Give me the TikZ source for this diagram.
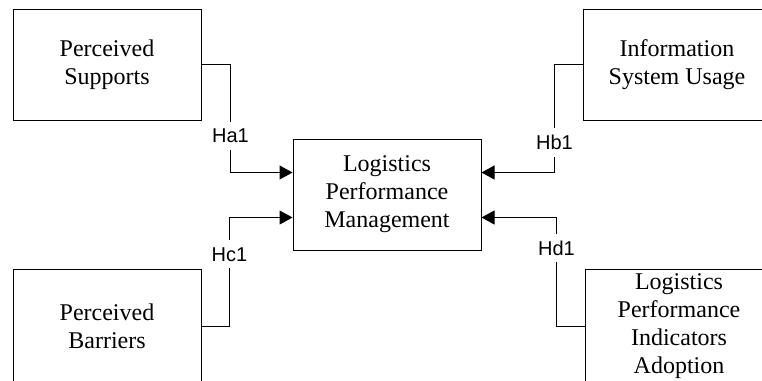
\documentclass[tikz,border=0pt]{standalone}
\usepackage{fontspec}
\setmainfont{Liberation Serif}
\newfontfamily\hfont{Liberation Sans}
\usetikzlibrary{arrows.meta}

\begin{document}
\begin{tikzpicture}[
  x=1pt,y=-1pt,
  >={Triangle[length=13pt,width=14pt]},
  factor/.style={draw,line width=1pt,minimum width=188pt,minimum height=111pt,
    inner sep=1pt,align=center,font=\fontsize{24}{28}\selectfont},
  link/.style={->,line width=1pt},
  hyp/.style={fill=white,inner xsep=3pt,inner ysep=7pt,font=\hfont\fontsize{20}{22}\selectfont}
]
  \useasboundingbox (0,0) rectangle (762,380);
  \clip (0,0) rectangle (762,380);

  \node[factor] (lpm) at (387,194.5) {Logistics\\Performance\\Management};
  \node[factor] (supp) at (107,64.5) {Perceived\\Supports};
  \node[factor] (isu) at (677,64.5) {Information\\System Usage};
  \node[factor,minimum height=114pt] (barr) at (107,326) {Perceived\\Barriers};
  \node[factor,minimum height=114pt] (lpia) at (679,326) {Logistics\\Performance\\Indicators\\Adoption};

  % hypotheses
  \draw[link] (supp.east) -- ++(29,0) |- node[pos=0.33,hyp] {Ha1} ([yshift=22pt]lpm.west);
  \draw[link] (isu.west) -- ++(-28,0) |- node[pos=0.36,hyp] {Hb1} ([yshift=22pt]lpm.east);
  \draw[link] (barr.east) -- ++(28,0) |- node[pos=0.33,hyp] {Hc1} ([yshift=-23pt]lpm.west);
  \draw[link] (lpia.west) -- ++(-28,0) |- node[pos=0.36,hyp] {Hd1} ([yshift=-23pt]lpm.east);
\end{tikzpicture}
\end{document}
